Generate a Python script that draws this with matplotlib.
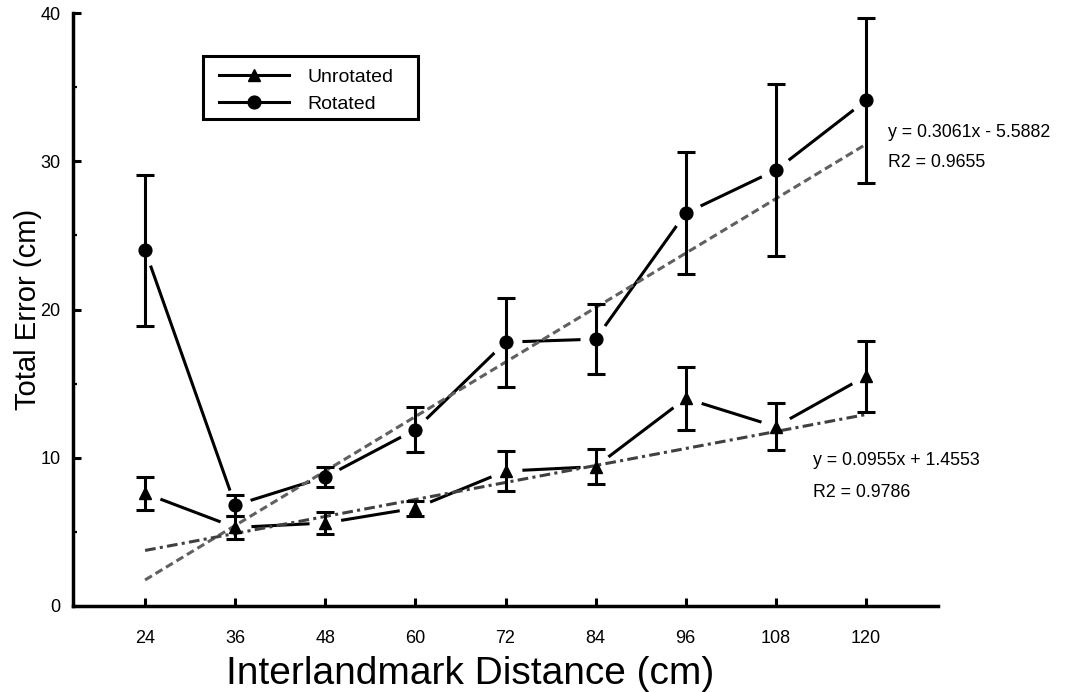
import matplotlib
matplotlib.use("Agg")
import matplotlib.pyplot as plt
from matplotlib.lines import Line2D
from matplotlib.patches import Rectangle
import numpy as np

plt.rcParams['font.family'] = ['Liberation Sans', 'DejaVu Sans']

distance = [24, 36, 48, 60, 72, 84, 96, 108, 120]
unrotated = [7.6, 5.3, 5.6, 6.6, 9.1, 9.4, 14.0, 12.1, 15.5]
unrotated_se = [1.1, 0.8, 0.75, 0.5, 1.35, 1.2, 2.15, 1.6, 2.4]
rotated = [24.0, 6.8, 8.7, 11.9, 17.8, 18.0, 26.5, 29.4, 34.1]
rotated_se = [5.1, 0.7, 0.7, 1.5, 3.0, 2.35, 4.1, 5.8, 5.55]
rot_slope, rot_icpt = 0.3061, -5.5882
unrot_slope, unrot_icpt = 0.0955, 1.4553
rot_eq = ["y = 0.3061x - 5.5882", "R2 = 0.9655"]
unrot_eq = ["y = 0.0955x + 1.4553", "R2 = 0.9786"]
xticks = [24, 36, 48, 60, 72, 84, 96, 108, 120]

fig = plt.figure(figsize=(10.67, 6.92), dpi=100)
ax = fig.add_axes([73/1067, 1-606/692, 865/1067, 593/692])

x = np.array(distance, dtype=float)
lw = 2.2

for y, se, mk, ms in [(unrotated, unrotated_se, '^', 9), (rotated, rotated_se, 'o', 9.2)]:
    ax.plot(x, y, '-', color='black', lw=lw, zorder=2, solid_capstyle='butt')
    ax.plot(x, y, linestyle='none', marker='o', ms=22, mfc='white', mec='white', zorder=3)
    ax.errorbar(x, y, yerr=se, fmt='none', ecolor='black', elinewidth=lw,
                capsize=6.3, capthick=lw, zorder=4)
    ax.plot(x, y, linestyle='none', marker=mk, ms=ms, mfc='black', mec='black', zorder=5)

xt = np.array([distance[0], distance[-1]], dtype=float)
ax.plot(xt, rot_slope*xt + rot_icpt, color='#606060', lw=2.2,
        linestyle=(0, (2.6, 1.4)), zorder=3.5)
ax.plot(xt, unrot_slope*xt + unrot_icpt, color='#404040', lw=2.2,
        linestyle=(0, (3.5, 1.4, 1.0, 1.4)), zorder=3.5)

fs_eq = 12.8
ax.text(122.9, 31.96, rot_eq[0], fontsize=fs_eq, ha='left', va='center')
ax.text(122.9, 29.93, rot_eq[1], fontsize=fs_eq, ha='left', va='center')
ax.text(112.9, 9.80, unrot_eq[0], fontsize=fs_eq, ha='left', va='center')
ax.text(112.9, 7.64, unrot_eq[1], fontsize=fs_eq, ha='left', va='center')

ax.set_xlim(14.4, 129.6)
ax.set_ylim(0, 40)
ax.set_xticks(xticks)
ax.set_yticks([0, 10, 20, 30, 40])
ax.set_yticks([5, 15, 25, 35], minor=True)
ax.tick_params(axis='both', which='major', direction='in', length=6, width=2.2, labelsize=13)
ax.tick_params(axis='x', pad=17)
ax.tick_params(axis='y', pad=9)
ax.tick_params(axis='y', which='minor', direction='in', length=3, width=1.6)
for s in ['top', 'right']:
    ax.spines[s].set_visible(False)
for s in ['left', 'bottom']:
    ax.spines[s].set_linewidth(2.5)

ax.set_xlabel('Interlandmark Distance (cm)', fontsize=28)
ax.xaxis.set_label_coords((470-73)/865, (606-674)/593)
ax.xaxis.label.set_va('center')
ax.set_ylabel('Total Error (cm)', fontsize=21)
ax.yaxis.set_label_coords((28-73)/865, 0.5)
ax.yaxis.label.set_va('center')

handles = [Line2D([], [], color='black', lw=lw, marker='^', ms=9),
           Line2D([], [], color='black', lw=lw, marker='o', ms=9.2)]
leg = ax.legend(handles, ['Unrotated', 'Rotated'], loc='upper left',
                bbox_to_anchor=(0.1538, 0.9275), borderaxespad=0, fontsize=14,
                handlelength=3.6, handletextpad=0.95, labelspacing=0.45,
                frameon=False, borderpad=0.65)
x0 = (203-73)/865
x1 = (418-73)/865
y1 = (606-56)/593
y0 = (606-119)/593
ax.add_patch(Rectangle((x0, y0), x1-x0, y1-y0, transform=ax.transAxes,
                       fill=False, edgecolor='black', lw=2.2, clip_on=False, zorder=6))

fig.savefig('out.png', dpi=100)
